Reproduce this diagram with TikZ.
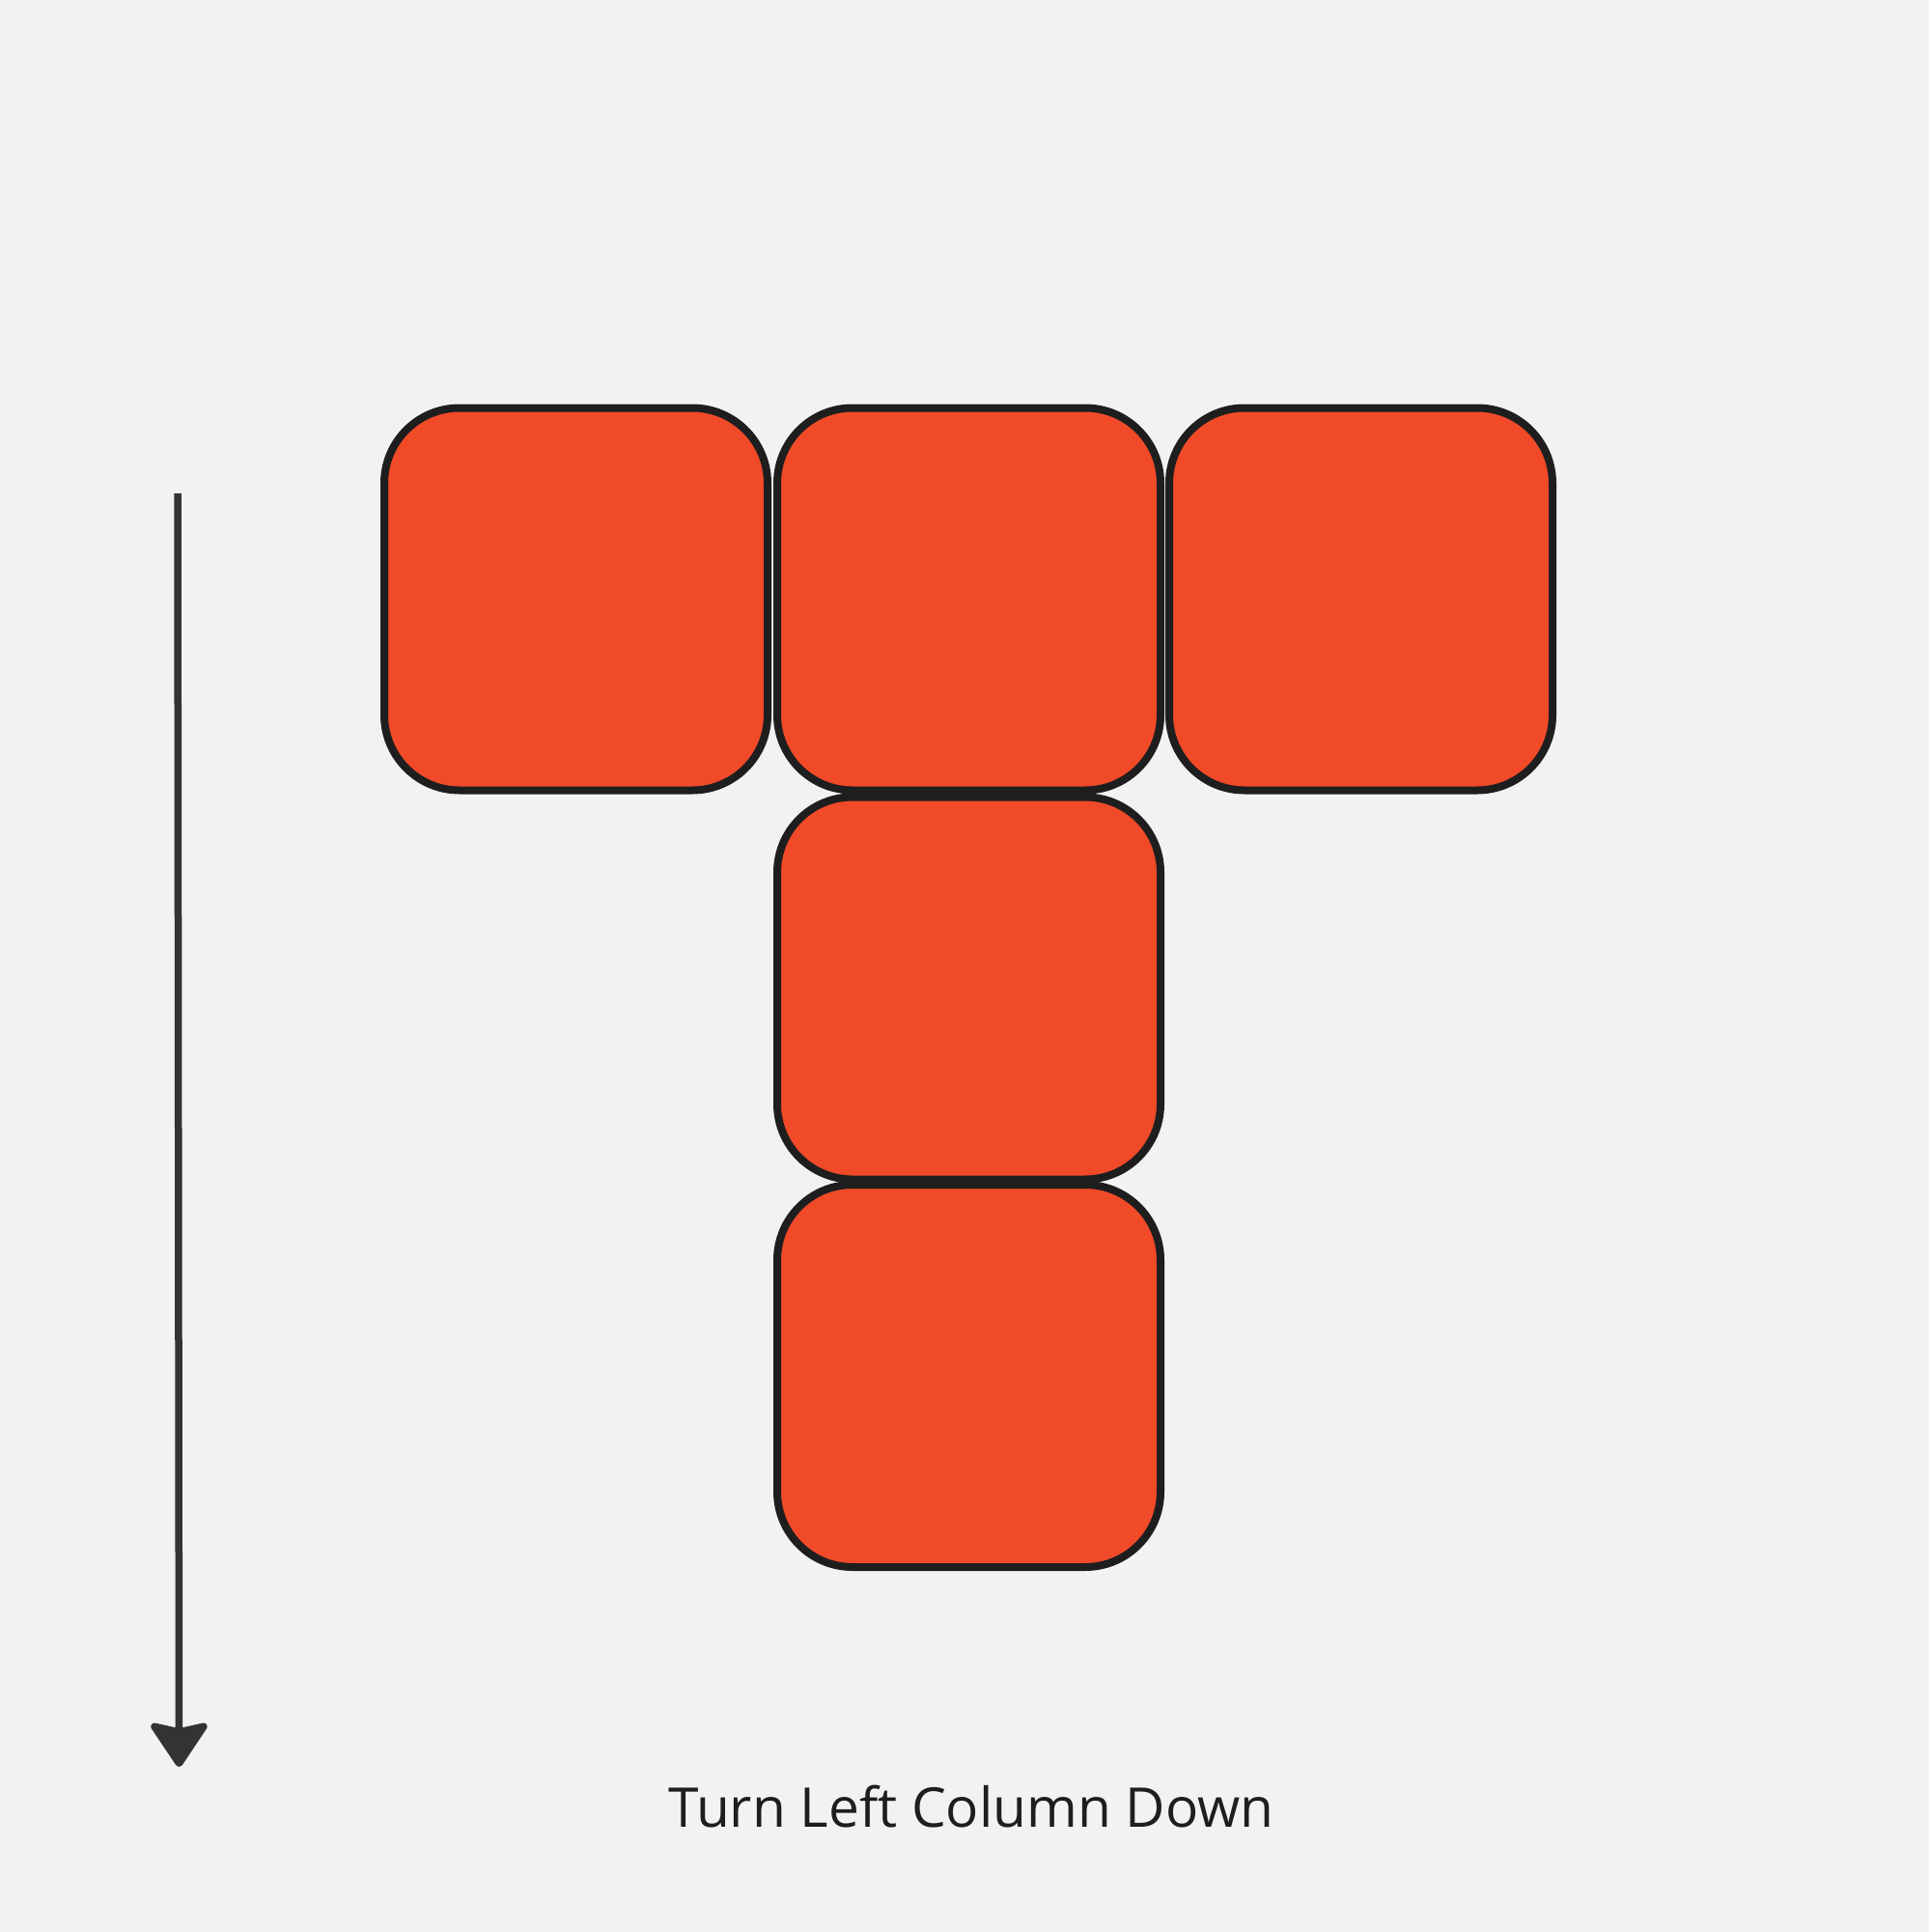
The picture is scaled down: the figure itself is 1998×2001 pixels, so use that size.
\documentclass[tikz,border=0pt]{standalone}
\usepackage{fontspec}
\setmainfont{Open Sans}
\usetikzlibrary{arrows.meta}
\definecolor{bg}{HTML}{F2F2F2}
\definecolor{tile}{HTML}{F04A28}
\definecolor{edge}{HTML}{1E1E1E}
\definecolor{arr}{HTML}{333333}
\begin{document}
\begin{tikzpicture}[x=0.5pt,y=-0.5pt,
  tilebox/.style={draw=edge,fill=tile,line width=4pt,rounded corners=39pt,
    minimum width=198.5pt,minimum height=198pt,inner sep=0pt,outer sep=0pt},
  lbl/.style={font=\fontsize{28.4}{34}\selectfont,text=edge,inner sep=0pt}]
\fill[bg] (0,0) rectangle (1998,2001);
\useasboundingbox (0,0) rectangle (1998,2001);
\node[tilebox] (a) at (596.5,620.5) {};
\node[tilebox] (b) at (1003.5,620.5) {};
\node[tilebox] (c) at (1409.5,620.5) {};
\node[tilebox] (d) at (1003.5,1023.5) {};
\node[tilebox] (e) at (1003.5,1425) {};
\coordinate (s) at (184,511);
\coordinate (t) at (185.5,1830);
\draw[arr,line width=3.75pt,-{Stealth[round,length=25pt,width=33pt,inset=3.5pt]}] (s) -- (t);
\node[lbl,anchor=base] (cap) at (1006,1892) {Turn Left Column Down};
\end{tikzpicture}
\end{document}
